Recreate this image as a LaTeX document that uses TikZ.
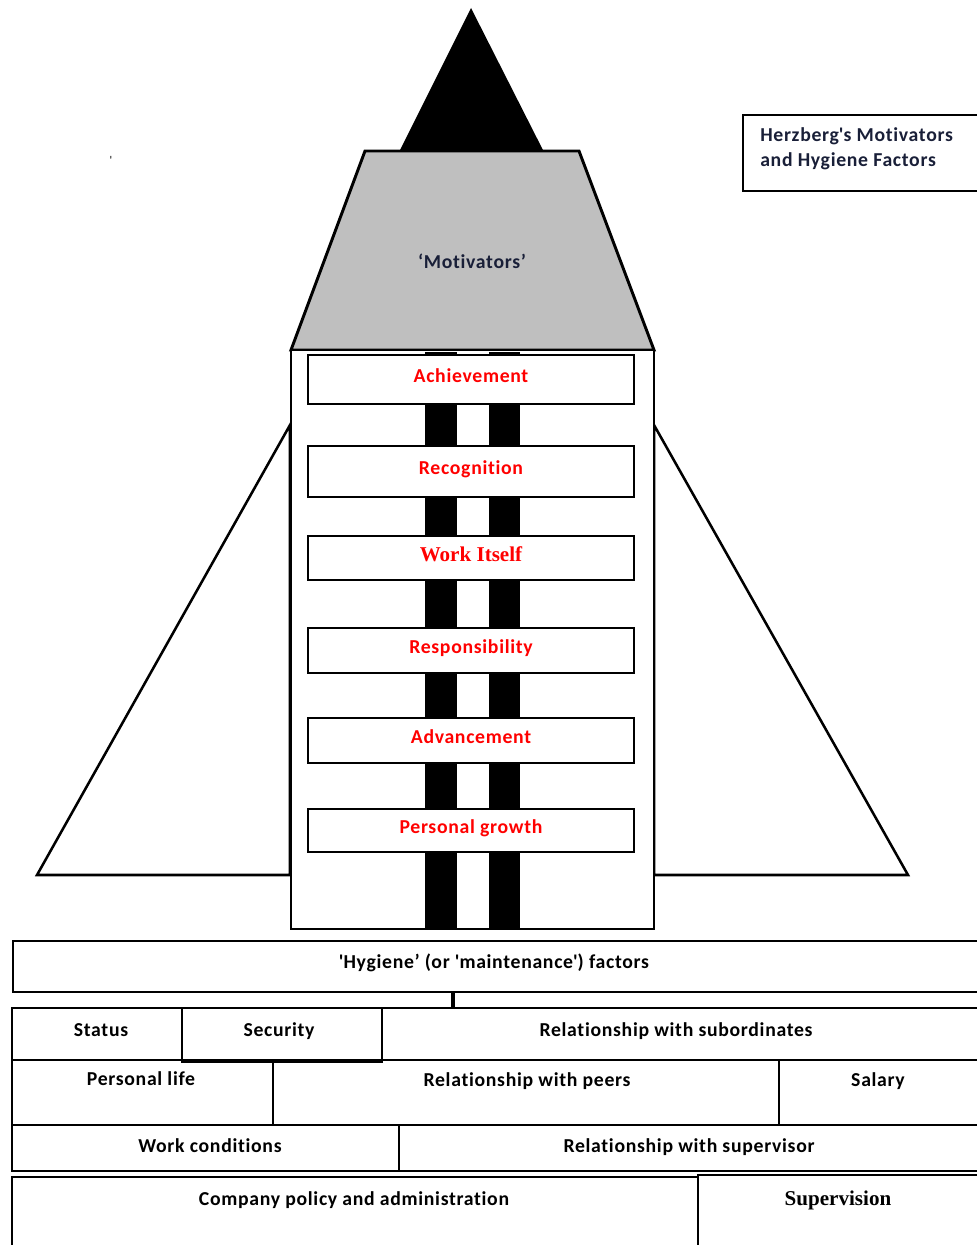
\documentclass[tikz,border=0pt]{standalone}
\usepackage{fontspec}
\setmainfont{Carlito}[LetterSpace=3.5,Ligatures={TeX,NoCommon}]
\newfontfamily\cambriaface{Liberation Serif}
\definecolor{motivgrey}{rgb}{0.75,0.75,0.75}
\definecolor{labelred}{rgb}{1,0,0}
\definecolor{navytext}{rgb}{0.1,0.12,0.22}

\begin{document}
\begin{tikzpicture}[
        x=0.75pt,y=-0.75pt,
        rocket/.style={draw=black,line width=2.2pt,line join=miter},
        fin/.style={draw=black,line width=1.9pt,fill=white},
        motiv/.style={draw=black,line width=1.1pt,fill=white,inner sep=0pt,
            minimum width=244.5pt,text=labelred,text height=9.5pt,text depth=4.5pt,
            font={\bfseries\fontsize{14.8}{18}\selectfont}},
        cell/.style={draw=black,line width=1.3pt},
        lab/.style={anchor=base,inner sep=0pt,font={\bfseries\fontsize{14.8}{18}\selectfont}},
        serifed/.style={font={\cambriaface\bfseries\fontsize{15.8}{18}\selectfont}}
    ]
    \useasboundingbox (0,0) rectangle (977,1245);
    \clip (0,0) rectangle (977,1245);

    %fins
    \draw[fin](290,425)--(37,875)--(290,875)--cycle;
    \draw[fin](654,425)--(908,875)--(654,875)--cycle;

    %nose cone
    \fill[black](471,8)--(396,158)--(547,158)--cycle;
    \draw[rocket,fill=motivgrey](365,151)--(579,151)--(654,350)--(291,350)--cycle;
    \node[lab,text=navytext] (motivators) at (472,268) {`Motivators'};

    %body with the two stripes
    \draw[rocket,fill=white](291,350) rectangle (654,929);
    \fill[black](425,352) rectangle (457,928);
    \fill[black](489,352) rectangle (520,928);

    %motivators
    \node[motiv,minimum height=36.75pt] (achievement) at (471,379.5) {Achievement};
    \node[motiv,minimum height=38.25pt] (recognition) at (471,471.5) {Recognition};
    \node[motiv,minimum height=33pt,serifed] (workitself) at (471,558) {Work Itself};
    \node[motiv,minimum height=33.75pt] (responsibility) at (471,650.5) {Responsibility};
    \node[motiv,minimum height=33.75pt] (advancement) at (471,740.5) {Advancement};
    \node[motiv,minimum height=32.25pt] (growth) at (471,830.5) {Personal growth};

    %title
    \draw[line width=1.1pt](743,115) rectangle (990,191);
    \node[lab,anchor=north west,align=left,text=navytext] (title) at (760,127)
        {Herzberg\textquotesingle s Motivators\\[1pt]and Hygiene Factors};
    \node[inner sep=0pt,font=\fontsize{9}{9}\selectfont] (tick) at (111,160) {\textquotesingle};

    %hygiene factors
    \node[cell,anchor=north west,inner sep=0pt,minimum width=733.5pt,minimum height=38.25pt] (hyg) at (12,940) {};
    \node[lab] (hyglab) at (494,968)
        {\textquotesingle Hygiene' (or \textquotesingle maintenance\textquotesingle) factors};
    \coordinate (rowtop) at (453,1008);
    \draw[line width=2.4pt](hyg.south -| rowtop)--(rowtop);

    \draw[cell](12,1008) rectangle (990,1060);
    \draw[cell](182,1008) rectangle (382,1062);
    \draw[cell](12,1060) rectangle (990,1125);
    \draw[cell](273,1060)--(273,1125);
    \draw[cell](779,1060)--(779,1125);
    \draw[cell](12,1125) rectangle (990,1171);
    \draw[cell](399,1125)--(399,1171);
    \draw[cell](12,1177) rectangle (698,1252);
    \draw[cell](698,1175) rectangle (990,1252);

    \node[lab] (status) at (101,1036) {Status};
    \node[lab] (security) at (279,1036) {Security};
    \node[lab] (subordinates) at (676,1036) {Relationship with subordinates};
    \node[lab] (personal) at (141,1085) {Personal life};
    \node[lab] (peers) at (527,1086) {Relationship with peers};
    \node[lab] (salary) at (878,1086) {Salary};
    \node[lab] (conditions) at (210,1152) {Work conditions};
    \node[lab] (supervisor) at (689,1152) {Relationship with supervisor};
    \node[lab] (policy) at (354,1205) {Company policy and administration};
    \node[lab,serifed] (supervision) at (838,1205) {Supervision};
\end{tikzpicture}
\end{document}
